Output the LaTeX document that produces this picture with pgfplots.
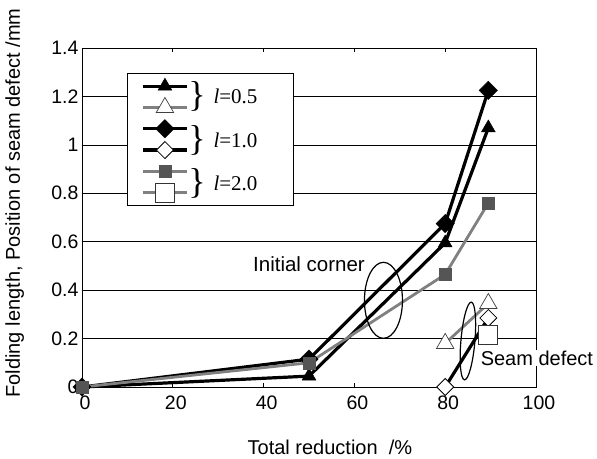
\documentclass[border=0pt]{standalone}
\usepackage{pgfplots}
\pgfplotsset{compat=1.18}
\usepackage{fontspec}
\setmainfont{Liberation Sans}
\newfontfamily\seriffont{Liberation Serif}

\definecolor{lgray}{HTML}{808080}
\definecolor{dgray}{HTML}{555555}

\begin{document}
\begin{tikzpicture}
% 1pt = 1px of the reference; plot area lower left at (0,0)
\path[use as bounding box] (-82pt,-71pt) rectangle (515pt,387pt);
\begin{axis}[
  scale only axis, width=454pt, height=339pt,
  at={(0,0)}, anchor=south west,
  xmin=0, xmax=100, ymin=0, ymax=1.4,
  xtick={0,20,40,60,80,100},
  ytick={0,0.2,0.4,0.6,0.8,1,1.2,1.4},
  ymajorgrids,
  grid style={black, line width=0.6pt},
  axis line style={black, line width=0.8pt},
  tick style={black, line width=0.6pt},
  major tick length=4pt,
  tick label style={font=\fontsize{19.5}{22}\selectfont},
  /pgf/number format/assume math mode=true,
  xticklabel style={xshift=3pt, yshift=-5pt},
  xlabel={Total reduction\ \ /\%},
  ylabel={Folding length, Position of seam defect /mm},
  label style={font=\fontsize{20}{23}\selectfont},
  xlabel style={at={(axis description cs:0.546,-0.177)}, anchor=center},
  ylabel style={at={(axis description cs:-0.148,0.543)}, anchor=center},
  clip=false,
  legend style={at={(axis description cs:0.099,0.926)}, anchor=north west,
    draw=black, line width=0.8pt, fill=white, inner xsep=14pt, inner ysep=2pt,
    nodes={inner sep=2pt, text height=9.3pt, text depth=8pt}},
  legend cell align=left,
  legend image code/.code={\draw[mark repeat=2,mark phase=2]
    plot coordinates {(0pt,0pt) (22pt,0pt) (44pt,0pt)};},
]

% l=0.5, folding length
\addplot[black, line width=3.2pt, mark=triangle*, mark size=8pt,
  mark options={solid, fill=black, line width=0.4pt}]
  coordinates {(0,0) (50,0.045) (80,0.595) (89.5,1.07)};
% l=0.5, seam defect
\addplot[lgray, line width=2.8pt, mark=triangle*, mark size=10pt,
  mark options={fill=white, draw=black!75, line width=0.7pt}]
  coordinates {(80,0.18) (89.5,0.345)};
% l=1.0, folding length
\addplot[black, line width=3.2pt, mark=square*, mark size=6.5pt,
  mark options={rotate=45, fill=black, line width=0.4pt}]
  coordinates {(0,0) (50,0.115) (80,0.675) (89.5,1.225)};
% l=1.0, seam defect
\addplot[black, line width=3.2pt, mark=square*, mark size=6pt,
  mark options={rotate=45, fill=white, draw=black, line width=0.8pt}]
  coordinates {(80,0) (89.5,0.285)};
% l=2.0, folding length
\addplot[lgray, line width=2.8pt, mark=square*, mark size=6pt,
  mark options={fill=dgray, draw=dgray, line width=0.4pt}]
  coordinates {(0,0) (50,0.10) (80,0.465) (89.5,0.76)};

% annotations
\draw[line width=1.2pt] (axis cs:66.4,0.358) ellipse [x radius=19pt, y radius=38pt];
\node[font=\fontsize{20.5}{23}\selectfont] at (axis cs:50,0.508) {Initial corner};
\draw[line width=1.2pt, rotate around={-5:(axis cs:85,0.19)}]
  (axis cs:85,0.19) ellipse [x radius=7pt, y radius=39pt];
\node[font=\fontsize{20}{23}\selectfont, fill=white, inner sep=1pt]
  at (axis cs:100.2,0.12) {Seam defect};

% l=2.0, seam defect
\addplot[lgray, line width=2.8pt, mark=square*, mark size=9.5pt,
  mark options={fill=white, draw=black!80, line width=0.8pt}]
  coordinates {(89.5,0.215)};

\legend{\hspace*{87pt},\hspace*{87pt},\hspace*{87pt},
        \hspace*{87pt},\hspace*{87pt},\hspace*{87pt}}
\end{axis}

% braces and labels of the legend, drawn over the legend box
\foreach \yy/\lab in {291/0.5, 247/1.0, 204/2.0}{
  \node[font=\seriffont\fontsize{36}{36}\selectfont] at (115pt,\yy pt) {\}};
  \node[anchor=west, font=\seriffont\fontsize{21}{24}\selectfont]
    at (128pt,\yy pt) {\textit{l}=\lab};
}
\end{tikzpicture}
\end{document}
